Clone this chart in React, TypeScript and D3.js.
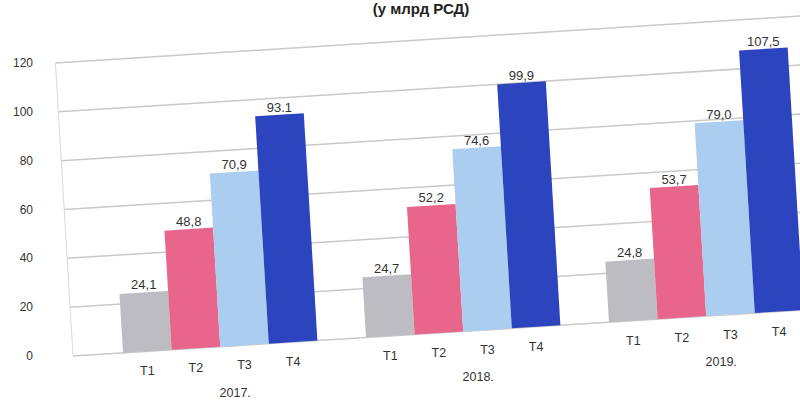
import React from "react";
import * as d3 from "d3";

const years = ["2017.", "2018.", "2019."];
const quarters = ["T1", "T2", "T3", "T4"];
const values2017 = [24.1, 48.8, 70.9, 93.1];
const values2018 = [24.7, 52.2, 74.6, 99.9];
const values2019 = [24.8, 53.7, 79.0, 107.5];
const labels2017 = ["24,1", "48,8", "70,9", "93.1"];
const labels2018 = ["24,7", "52,2", "74,6", "99,9"];
const labels2019 = ["24,8", "53,7", "79,0", "107,5"];
const yTicks = [0, 20, 40, 60, 80, 100, 120];
const colors = ["#bdbcc0", "#e8668c", "#aacdf0", "#2c44bd"];
const title = "(у млрд РСД)";

const series = [values2017, values2018, values2019];
const seriesLabels = [labels2017, labels2018, labels2019];

const W = 800;
const H = 409;
const X0 = 73;
const Y0 = 356;
const K = 0.06; // lean of verticals
const S = -0.063; // slope of horizontals

function proj(x: number, y: number): [number, number] {
  return [x + K * (y - Y0), y + S * (x - X0)];
}

export default function App() {
  const y = d3.scaleLinear().domain([0, 120]).range([Y0, 63]);
  const x0 = d3.scaleBand<string>().domain(years).range([123, 123 + 243 * 2.8]).paddingInner(0.2).paddingOuter(0);
  const x1 = d3.scaleBand<string>().domain(quarters).range([0, x0.bandwidth()]).padding(0);
  const font = "'Liberation Sans', Arial, sans-serif";
  const tf = `matrix(1, ${S}, ${K}, 1, ${-K * Y0}, ${-S * X0})`;

  return (
    <svg width={W} height={H} style={{ position: "absolute", left: 0, top: 0, background: "#fff" }} fontFamily={font}>
      <rect width={W} height={H} fill="#fff" />
      <text x={421} y={14} textAnchor="middle" fontSize={15} fontWeight="bold" fill="#222">{title}</text>
      <g transform={tf}>
        {yTicks.map((t) => (
          <line key={t} x1={X0} x2={900} y1={y(t)} y2={y(t)} stroke="#c9c9c9" strokeWidth={1.5} />
        ))}
        <line x1={X0} x2={X0} y1={y(0)} y2={y(120)} stroke="#d8d8d8" strokeWidth={1} />
        {years.map((yr, gi) =>
          quarters.map((q, qi) => {
            const v = series[gi][qi];
            const bx = (x0(yr) as number) + (x1(q) as number);
            return (
              <rect key={yr + q} x={bx} y={y(v)} width={x1.bandwidth()} height={y(0) - y(v)} fill={colors[qi]} />
            );
          })
        )}
      </g>
      {yTicks.map((t) => (
        <text key={t} x={33} y={y(t) + 4} textAnchor="end" fontSize={12} fill="#333">{t}</text>
      ))}
      {years.map((yr, gi) =>
        quarters.map((q, qi) => {
          const v = series[gi][qi];
          const cx = (x0(yr) as number) + (x1(q) as number) + x1.bandwidth() / 2;
          const [lx, ly] = proj(cx, y(v));
          const [tx, ty] = proj(cx, Y0);
          return (
            <g key={yr + q + "l"}>
              <text x={lx} y={ly - 3} textAnchor="middle" fontSize={13} fill="#333">{seriesLabels[gi][qi]}</text>
              <text x={tx} y={ty + 24} textAnchor="middle" fontSize={12.5} fill="#333">{q}</text>
            </g>
          );
        })
      )}
      {years.map((yr) => {
        const cx = (x0(yr) as number) + x0.bandwidth() / 2 + 15;
        const [tx, ty] = proj(cx, Y0);
        return (
          <text key={yr} x={tx} y={ty + 51} textAnchor="middle" fontSize={12.5} fill="#333">{yr}</text>
        );
      })}
    </svg>
  );
}
